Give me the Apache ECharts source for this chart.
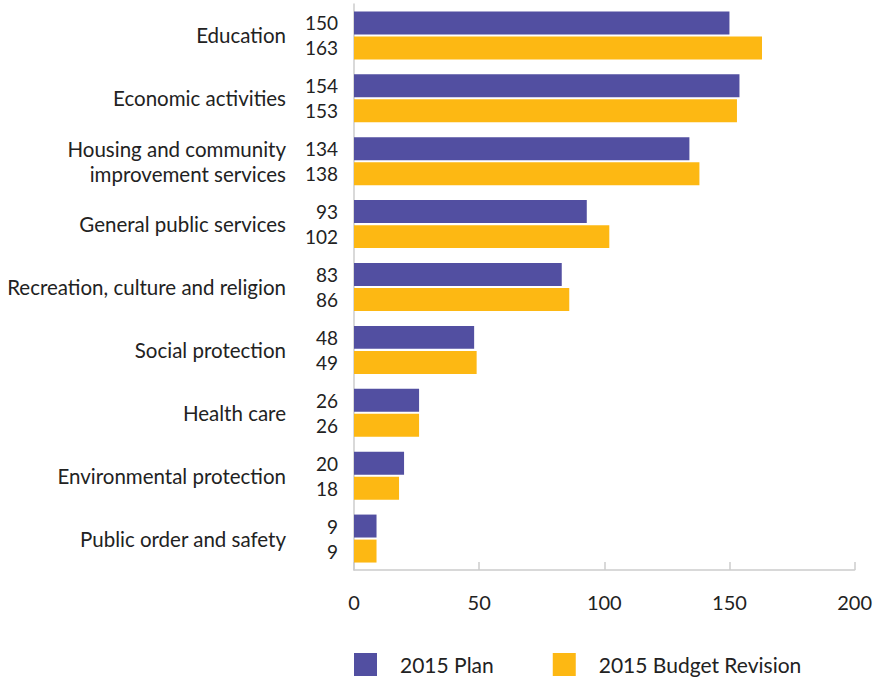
<!DOCTYPE html>
<html><head><meta charset="utf-8">
<script src="https://cdn.jsdelivr.net/npm/echarts@6/dist/echarts.min.js"></script>
<style>html,body{margin:0;padding:0;background:#fff}#c{width:875px;height:682px}</style>
</head><body><div id="c"></div>
<script>
const categories = ["Education","Economic activities","Housing and community\nimprovement services","General public services","Recreation, culture and religion","Social protection","Health care","Environmental protection","Public order and safety"];
const plan2015 = [150,154,134,93,83,48,26,20,9];
const revision2015 = [163,153,138,102,86,49,26,18,9];
const xTicks = {min:0, max:200, interval:50};
const FONT = 'Lato';
const chart = echarts.init(document.getElementById('c'), null, {renderer:'svg'});
const lbl = {show:true, position:'left', distance:16, color:'#222', fontSize:19, fontFamily:FONT};
chart.setOption({
  animation:false,
  textStyle:{fontFamily:FONT},
  grid:{left:354, right:17, top:4, bottom:112},
  legend:{left:354, top:653, padding:0, itemWidth:23, itemHeight:23, itemGap:59, icon:'rect',
    textStyle:{fontSize:21, color:'#222', fontFamily:FONT, padding:[0,0,0,18]},
    data:['2015 Plan','2015 Budget Revision']},
  xAxis:{type:'value', min:xTicks.min, max:xTicks.max, interval:xTicks.interval,
    axisLine:{show:true, lineStyle:{color:'#cccccc', width:1.5}},
    axisTick:{show:true, inside:true, length:8, lineStyle:{color:'#cccccc', width:1.5}},
    splitLine:{show:false},
    axisLabel:{fontSize:20, color:'#222', margin:22, fontFamily:FONT}},
  yAxis:{type:'category', inverse:true, data:categories,
    axisLine:{show:true, lineStyle:{color:'#cccccc', width:1.5}},
    axisTick:{show:false},
    axisLabel:{fontSize:20.5, color:'#222', margin:68, lineHeight:25, align:'right', fontFamily:FONT, padding:[0,0,4,0]}},
  series:[
    {name:'2015 Plan', type:'bar', data:plan2015, barWidth:'36.5%', barGap:'9%',
     itemStyle:{color:'#524FA1'}, label:lbl},
    {name:'2015 Budget Revision', type:'bar', data:revision2015, barWidth:'36.5%', barGap:'9%',
     itemStyle:{color:'#FDB813'}, label:lbl}
  ]
});
</script></body></html>
